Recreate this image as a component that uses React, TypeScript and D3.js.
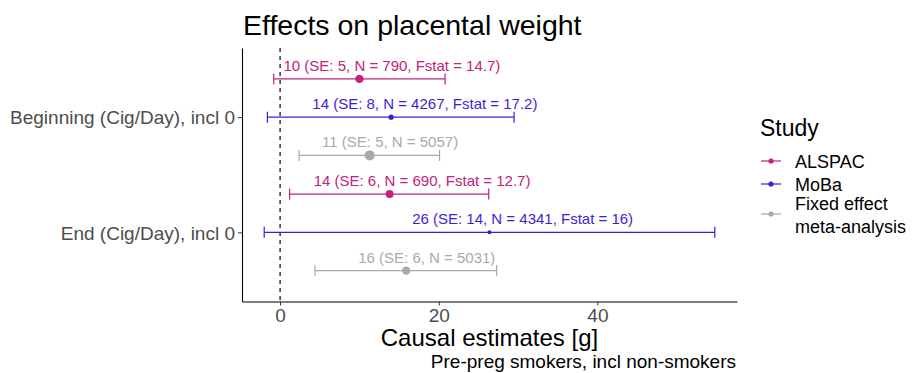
import React, { useEffect, useRef } from "react";
import * as d3 from "d3";

// categories on the y axis
const categories = ["Beginning (Cig/Day), incl 0", "End (Cig/Day), incl 0"];
const studies = ["ALSPAC", "MoBa", "Fixed effect meta-analysis"];
const legendLines = [["ALSPAC"], ["MoBa"], ["Fixed effect", "meta-analysis"]];
const studyColors = ["#c2227c", "#3b1fd6", "#a9a9a9"];

// per category, per study
const estimates = [
  [10.0, 14.0, 11.3],
  [13.8, 26.4, 15.9],
];
const lowerCI = [
  [-0.8, -1.6, 2.4],
  [1.2, -2.0, 4.4],
];
const upperCI = [
  [20.8, 29.5, 20.1],
  [26.3, 54.8, 27.3],
];
const annotations = [
  [
    "10 (SE: 5, N = 790, Fstat = 14.7)",
    "14 (SE: 8, N = 4267, Fstat = 17.2)",
    "11 (SE: 5, N = 5057)",
  ],
  [
    "14 (SE: 6, N = 690, Fstat = 12.7)",
    "26 (SE: 14, N = 4341, Fstat = 16)",
    "16 (SE: 6, N = 5031)",
  ],
];
// point size (weight) per estimate
const pointSize = [
  [4.2, 2.6, 5],
  [4, 2, 4.2],
];
const xTicks = [0, 20, 40];

const FONT = "'Liberation Sans', Arial, sans-serif";

export default function App() {
  const ref = useRef<SVGSVGElement>(null);

  useEffect(() => {
    const svg = d3.select(ref.current);
    svg.selectAll("*").remove();

    const left = 242, right = 737, top = 48, bottom = 301.5;

    const x = d3.scaleLinear().domain([-4.8, 57.6]).range([left, right]);
    const y = d3.scalePoint<string>().domain(categories).range([top, bottom]).padding(0.6);
    const dodge = y.step() * 0.332;

    const g = svg.append("g").style("font-family", FONT);

    // dashed zero line
    g.append("line")
      .attr("x1", x(0)).attr("x2", x(0))
      .attr("y1", top).attr("y2", bottom)
      .attr("stroke", "#000")
      .attr("stroke-width", 1.2)
      .attr("stroke-dasharray", "4,4");

    // x axis
    const xAxis = g.append("g")
      .attr("transform", `translate(0, ${bottom})`)
      .call(d3.axisBottom(x).tickValues(xTicks).tickSize(4).tickPadding(3).tickSizeOuter(0));
    xAxis.select(".domain").attr("stroke", "#000").attr("stroke-width", 1.1);
    xAxis.selectAll(".tick line").attr("stroke", "#333");
    xAxis.selectAll(".tick text")
      .attr("fill", "#4d4d4d")
      .style("font-size", "19px")
      .style("font-family", FONT);

    // y axis
    const yAxis = g.append("g")
      .attr("transform", `translate(${left}, 0)`)
      .call(d3.axisLeft(y).tickSize(4).tickPadding(3).tickSizeOuter(0));
    yAxis.select(".domain").attr("stroke", "#000").attr("stroke-width", 1.1);
    yAxis.selectAll(".tick line").attr("stroke", "#333");
    yAxis.selectAll(".tick text")
      .attr("fill", "#4d4d4d")
      .attr("dy", "0.35em")
      .style("font-size", "19px")
      .style("font-family", FONT);

    // error bars, points and labels
    categories.forEach((cat, i) => {
      studies.forEach((s, j) => {
        const cy = (y(cat) as number) + (j - 1) * dodge;
        const col = studyColors[j];
        const bar = g.append("g");
        bar.append("line")
          .attr("x1", x(lowerCI[i][j])).attr("x2", x(upperCI[i][j]))
          .attr("y1", cy).attr("y2", cy)
          .attr("stroke", col).attr("stroke-width", 1.2);
        [lowerCI[i][j], upperCI[i][j]].forEach(v => {
          bar.append("line")
            .attr("x1", x(v)).attr("x2", x(v))
            .attr("y1", cy - 5.5).attr("y2", cy + 5.5)
            .attr("stroke", col).attr("stroke-width", 1.2);
        });
        bar.append("circle")
          .attr("cx", x(estimates[i][j]))
          .attr("cy", cy)
          .attr("r", pointSize[i][j])
          .attr("fill", col);

        const t = g.append("text")
          .attr("y", cy - 8)
          .attr("fill", col)
          .style("font-size", "15px")
          .text(annotations[i][j]);
        const w = (t.node() as SVGTextElement).getComputedTextLength();
        t.attr("x", x(estimates[i][j]) - 0.35 * w);
      });
    });

    // titles
    g.append("text")
      .attr("x", 243).attr("y", 35)
      .style("font-size", "28.5px")
      .attr("fill", "#000")
      .text("Effects on placental weight");

    g.append("text")
      .attr("x", (left + right) / 2).attr("y", 346)
      .attr("text-anchor", "middle")
      .style("font-size", "24px")
      .attr("fill", "#000")
      .text("Causal estimates [g]");

    g.append("text")
      .attr("x", right - 1).attr("y", 368)
      .attr("text-anchor", "end")
      .style("font-size", "19px")
      .attr("fill", "#000")
      .text("Pre-preg smokers, incl non-smokers");

    // legend
    const legend = g.append("g");
    legend.append("text")
      .attr("x", 760).attr("y", 136)
      .style("font-size", "23px")
      .attr("fill", "#000")
      .text("Study");

    const keyY = [161, 184, 214];
    const textY = [168, 191, 210];
    studies.forEach((s, j) => {
      legend.append("line")
        .attr("x1", 761).attr("x2", 781)
        .attr("y1", keyY[j]).attr("y2", keyY[j])
        .attr("stroke", studyColors[j]).attr("stroke-width", 1.2);
      legend.append("circle")
        .attr("cx", 771).attr("cy", keyY[j]).attr("r", 2.6)
        .attr("fill", studyColors[j]);
      legendLines[j].forEach((ln, k) => {
        legend.append("text")
          .attr("x", 795).attr("y", textY[j] + k * 23)
          .style("font-size", "18px")
          .attr("fill", "#000")
          .text(ln);
      });
    });
  }, []);

  return (
    <div style={{ position: "absolute", left: 0, top: 0 }}>
      <svg ref={ref} width={912} height={373} style={{ display: "block", background: "#fff" }} />
    </div>
  );
}
